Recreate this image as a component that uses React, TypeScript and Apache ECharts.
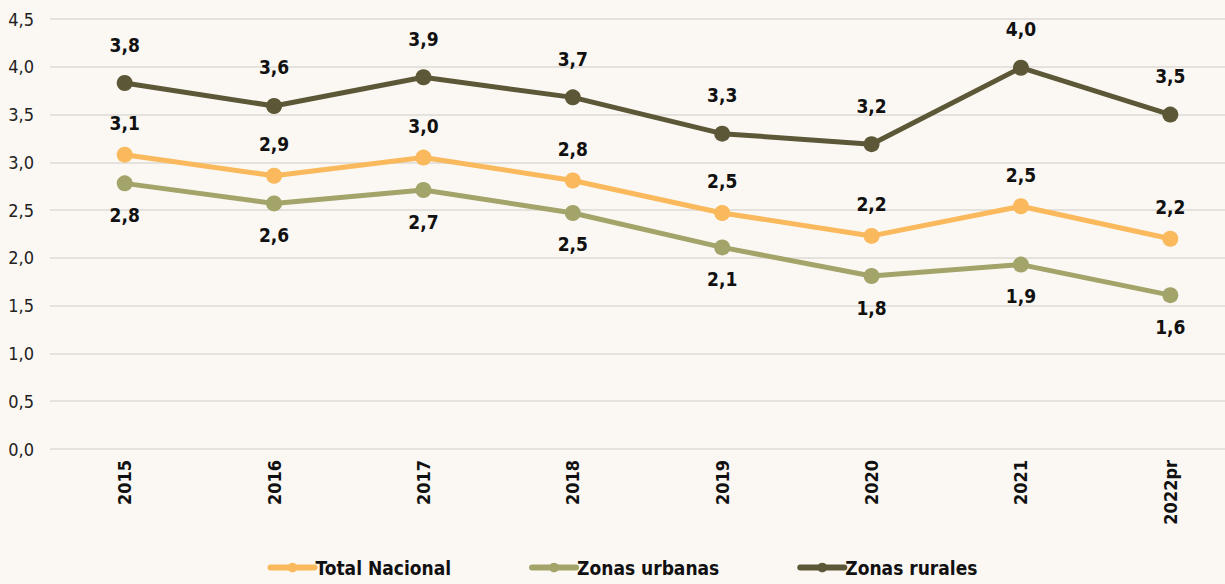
import React, { useEffect, useRef } from "react";
import * as echarts from "echarts";

const categories = ["2015", "2016", "2017", "2018", "2019", "2020", "2021", "2022pr"];
const totalNacional = [3.08, 2.86, 3.05, 2.81, 2.47, 2.23, 2.54, 2.2];
const zonasUrbanas = [2.78, 2.57, 2.71, 2.47, 2.11, 1.81, 1.93, 1.61];
const zonasRurales = [3.83, 3.59, 3.89, 3.68, 3.3, 3.19, 3.99, 3.5];
const seriesNames = ["Total Nacional", "Zonas urbanas", "Zonas rurales"];

const FONT = "'DejaVu Sans Condensed', 'Liberation Sans Narrow', Roboto, sans-serif";
const fmt = (v: number) => v.toFixed(1).replace(".", ",");

export default function App() {
  const ref = useRef<HTMLDivElement>(null);
  useEffect(() => {
    document.body.style.margin = "0";
    const chart = echarts.init(ref.current!, null, { renderer: "svg" });
    const mk = (name: string, data: number[], color: string, pos: "top" | "bottom", dist: number) => ({
      name,
      type: "line",
      data,
      symbol: "circle",
      symbolSize: 16,
      lineStyle: { width: 5, color },
      itemStyle: { color },
      label: {
        show: true,
        position: pos,
        distance: dist,
        formatter: (p: any) => fmt(p.value),
        fontFamily: FONT,
        fontWeight: "bold",
        fontSize: 19,
        color: "#111",
      },
    });
    chart.setOption({
      animation: false,
      backgroundColor: "#FBF8F3",
      textStyle: { fontFamily: FONT },
      grid: { left: 50, right: 0, top: 19, bottom: 135 },
      legend: {
        bottom: 2,
        left: "center",
        itemWidth: 44,
        itemHeight: 12,
        itemGap: 78,
        lineStyle: { width: 6, cap: "round" },
        textStyle: { fontFamily: FONT, fontWeight: "bold", fontSize: 19, color: "#111", padding: [0, 0, 0, -4] },
        data: seriesNames,
      },
      xAxis: {
        type: "category",
        data: categories,
        axisLine: { show: false },
        axisTick: { show: false },
        axisLabel: {
          rotate: 90,
          margin: 11,
          fontFamily: FONT,
          fontWeight: "bold",
          fontSize: 18,
          color: "#111",
        },
      },
      yAxis: {
        type: "value",
        min: 0,
        max: 4.5,
        interval: 0.5,
        axisLabel: {
          formatter: (v: number) => fmt(v),
          fontFamily: FONT,
          fontSize: 18,
          color: "#222",
          margin: 16,
        },
        splitLine: { lineStyle: { color: "#DEDAD5", width: 1.5 } },
      },
      series: [
        mk(seriesNames[0], totalNacional, "#F9B95C", "top", 14),
        mk(seriesNames[1], zonasUrbanas, "#A3A46A", "bottom", 14),
        mk(seriesNames[2], zonasRurales, "#5C5737", "top", 21),
      ],
    });
    return () => chart.dispose();
  }, []);
  return (
    <div style={{ width: 1225, height: 584, overflow: "hidden", background: "#FBF8F3" }}>
      <div ref={ref} style={{ width: 1245, height: 584 }} />
    </div>
  );
}
